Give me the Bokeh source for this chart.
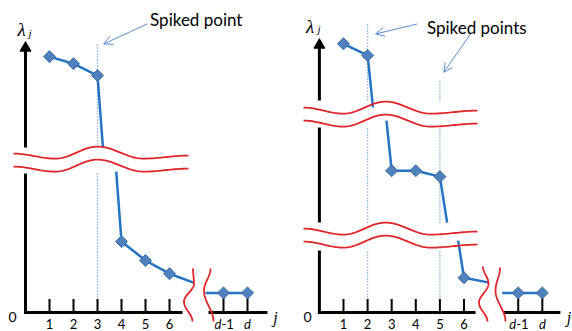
import numpy as np
from bokeh.plotting import figure
from bokeh.layouts import row
from bokeh.models import Range1d, Arrow, OpenHead
from bokeh.core.properties import value
from bokeh.embed import file_html
from bokeh.resources import INLINE

# ---------------- data ----------------
TICK_J = [1, 2, 3, 4, 5, 6, 8.25, 9.25]
TICK_LABELS = ["1", "2", "3", "4", "5", "6", "d-1", "d"]

# left panel: eigenvalues (true units of the broken lambda axis); j=7 is cut by the break
left_j = [1, 2, 3, 4, 5, 6, 7]
left_lam = [15.12, 14.86, 14.42, 2.63, 1.93, 1.44, 1.11]
left_end_j = [7.5, 8.25, 9.25]          # d-2 (hidden marker), d-1, d
left_end_lam = [0.73, 0.73, 0.73]
left_spike_j = [3]
left_spike_top = [9.96]

# right panel
right_j = [1, 2, 3, 4, 5, 6, 7]
right_lam = [16.2, 15.77, 7.19, 7.19, 6.97, 1.29, 1.12]
right_end_j = [7.585, 8.25, 9.25]
right_end_lam = [0.73, 0.73, 0.73]
right_spike_j = [2, 5]
right_spike_top = [10.67, 8.59]

# axis breaks: (display low, display high, true span hidden)
left_line_breaks = [(5.222, 6.111, 6.53)]
right_line_breaks = [(2.667, 3.333, 2.60), (7.111, 7.60, 4.80)]
left_axis_gaps = [(5.152, 6.115)]
right_axis_gaps = [(2.30, 3.337), (6.856, 7.856)]

Y0, Y1 = -0.70, 11.559

LINE_C = "#2474C6"
MARK_FILL = "#4F81BD"
MARK_LINE = "#3A6CA8"
RED = "#E0252A"
GUIDE_C = "#4C88CC"
ARROW_C = "#5B8CD2"
FONT = "Lato"
SERIF = "Liberation Serif"


# ---------------- helpers ----------------
def build_breaks(spec):
    out, shift = [], 0.0
    for dlo, dhi, span in spec:
        tlo = dlo + shift
        thi = tlo + span
        out.append((tlo, thi, dlo, dhi))
        shift = thi - dhi
    return out


def to_disp(t, brks):
    shift = 0.0
    for tlo, thi, dlo, dhi in brks:
        if t >= thi:
            shift = thi - dhi
        elif t > tlo:
            return None
        else:
            break
    return t - shift


def broken_line(xs, ts, brks):
    outx, outy = [], []
    for i in range(len(xs) - 1):
        x0, t0, x1, t1 = xs[i], ts[i], xs[i + 1], ts[i + 1]
        cuts = sorted([c for b in brks for c in b[:2] if min(t0, t1) < c < max(t0, t1)],
                      reverse=t0 > t1)
        seq = [(x0, t0)] + [(x0 + (c - t0) / (t1 - t0) * (x1 - x0), c) for c in cuts] + [(x1, t1)]
        for (xa, ta), (xb, tb) in zip(seq[:-1], seq[1:]):
            if to_disp((ta + tb) / 2, brks) is None:
                if outx and not np.isnan(outx[-1]):
                    outx.append(np.nan)
                    outy.append(np.nan)
                continue
            if not outx or np.isnan(outx[-1]):
                outx.append(xa)
                outy.append(to_disp(ta, brks))
            outx.append(xb)
            outy.append(to_disp(tb, brks))
    return outx, outy


def split_span(a, b, gaps):
    pieces, cur = [], a
    for lo, hi in sorted(gaps):
        if hi <= cur or lo >= b:
            continue
        pieces.append((cur, lo))
        cur = hi
    pieces.append((cur, b))
    return pieces


def ease(lin, eased, n=24):
    a, b = [], []
    for i in range(len(lin) - 1):
        t = np.linspace(0, 1, n, endpoint=(i == len(lin) - 2))
        s = (1 - np.cos(np.pi * t)) / 2
        a.extend(lin[i] + t * (lin[i + 1] - lin[i]))
        b.extend(eased[i] + s * (eased[i + 1] - eased[i]))
    return a, b


def make_fig(x0, x1):
    p = figure(width=286, height=331, x_range=Range1d(x0, x1), y_range=Range1d(Y0, Y1),
               output_backend="svg", toolbar_location=None, min_border=0,
               x_axis_location=None, y_axis_location=None)
    p.grid.visible = False
    p.outline_line_color = None
    return p


def txt(p, x, y, s, size, align="center", font=FONT, style="normal", color="black",
        xoff=0, baseline="alphabetic"):
    p.text(x=[x], y=[y], text=[s], text_font=value(font), text_font_size=size,
           text_align=align, text_baseline=baseline, text_font_style=style,
           text_color=color, x_offset=xoff)


def draw_panel(p, cfg):
    brks = build_breaks(cfg["line_breaks"])
    gaps = cfg["axis_gaps"]

    # spiked guides (dotted)
    for sj, top in zip(cfg["spike_j"], cfg["spike_top"]):
        for a, b in split_span(0, top, gaps):
            p.segment(x0=[sj], y0=[a], x1=[sj], y1=[b], line_color=GUIDE_C,
                      line_width=1.3, line_dash="1 2")

    # axes
    for a, b in split_span(-0.055, cfg["y_top"], gaps):
        p.segment(x0=[0], y0=[a], x1=[0], y1=[b], line_color="black", line_width=3)
    p.scatter(x=[0], y=[cfg["y_top"]], marker="triangle", size=11, fill_color="black",
              line_color="black")
    for a, b in cfg["xaxis"]:
        p.segment(x0=[a], y0=[0], x1=[b], y1=[0], line_color="black", line_width=3)
    tick_tops = [0.5] * 6 + [to_disp(v, brks) for v in cfg["end_lam"][1:]]
    p.segment(x0=TICK_J, y0=[0] * len(TICK_J), x1=TICK_J, y1=tick_tops,
              line_color="black", line_width=2)

    # data line
    lx, ly = broken_line(cfg["j"], cfg["lam"], brks)
    p.line(lx, ly, line_color=LINE_C, line_width=2.5)
    p.line(cfg["end_j"], [to_disp(v, brks) for v in cfg["end_lam"]],
           line_color=LINE_C, line_width=2.5)
    mx = cfg["j"][:6] + cfg["end_j"][1:]
    my = [to_disp(v, brks) for v in cfg["lam"][:6] + cfg["end_lam"][1:]]
    p.scatter(x=mx, y=my, marker="square", angle=np.pi / 4, size=8.5,
              fill_color=MARK_FILL, line_color=MARK_LINE, line_width=1)

    # break symbols
    for kx, ky in cfg["waves"]:
        wx, wy = ease(kx, ky)
        p.line(wx, wy, line_color=RED, line_width=1.8)
    for kx, ky in cfg["vbreaks"]:
        vy, vx = ease(ky, kx)
        p.line(vx, vy, line_color=RED, line_width=1.8)

    # texts
    ty_lab = -0.41
    for tj, lab in zip(TICK_J, TICK_LABELS):
        if lab == "d-1":
            txt(p, tj, ty_lab, "d", "13px", align="right", style="italic", xoff=-2, baseline="middle")
            txt(p, tj, ty_lab, "-1", "13px", align="left", xoff=-2, baseline="middle")
        elif lab == "d":
            txt(p, tj, ty_lab, "d", "13px", style="italic", baseline="middle")
        else:
            txt(p, tj, ty_lab, lab, "13px", baseline="middle")
    txt(p, cfg["zero_x"], -0.18, "0", "14px")
    txt(p, cfg["jlab_x"], -0.18, "j", "16px", font=SERIF, style="italic")
    lx0, ly0, sx0, sy0 = cfg["lam_lab"]
    txt(p, lx0, ly0, "λ", "19px", font=SERIF, style="italic")
    txt(p, sx0, sy0, "j", "11px", align="left", font=SERIF, style="italic")
    tx, ty, s = cfg["title"]
    txt(p, tx, ty, s, "17px")
    for (xs, ys, xe, ye) in cfg["arrows"]:
        p.add_layout(Arrow(x_start=xs, y_start=ys, x_end=xe, y_end=ye,
                           line_color=ARROW_C, line_width=1,
                           end=OpenHead(size=9, line_color=ARROW_C, line_width=1)))


left_cfg = dict(
    j=left_j, lam=left_lam, end_j=left_end_j, end_lam=left_end_lam,
    line_breaks=left_line_breaks, axis_gaps=left_axis_gaps,
    spike_j=left_spike_j, spike_top=left_spike_top,
    y_top=9.80, xaxis=[(-0.06, 6.54), (7.625, 10.08)],
    waves=[([-0.5, 1.25, 3.0, 4.917, 6.792], [5.889, 5.704, 6.148, 5.704, 5.815]),
           ([-0.5, 1.25, 3.0, 4.917, 6.792], [5.407, 5.222, 5.667, 5.222, 5.333])],
    vbreaks=[([6.979, 7.021, 6.604, 6.958], [1.630, 1.074, 0.407, -0.333]),
             ([7.708, 7.438, 7.833], [1.630, 0.815, -0.333])],
    zero_x=-0.542, jlab_x=10.42,
    lam_lab=(-0.167, 10.49, 0.125, 10.37),
    title=(7.115, 10.84, "Spiked point"),
    arrows=[(5.07, 10.69, 3.26, 9.95)],
)

right_cfg = dict(
    j=right_j, lam=right_lam, end_j=right_end_j, end_lam=right_end_lam,
    line_breaks=right_line_breaks, axis_gaps=right_axis_gaps,
    spike_j=right_spike_j, spike_top=right_spike_top,
    y_top=9.91, xaxis=[(-0.06, 6.48), (7.64, 10.0)],
    waves=[([-0.66, 1.0, 2.743, 4.61, 6.56], [7.593, 7.370, 7.815, 7.370, 7.481]),
           ([-0.66, 1.0, 2.743, 4.61, 6.56], [7.111, 6.889, 7.333, 6.889, 7.0]),
           ([-0.66, 1.0, 2.743, 4.61, 6.56], [3.111, 2.889, 3.333, 2.889, 3.0]),
           ([-0.66, 1.0, 2.743, 4.61, 6.56], [2.630, 2.407, 2.852, 2.407, 2.519])],
    vbreaks=[([6.788, 7.017, 6.622, 6.975], [1.704, 1.074, 0.370, -0.333]),
             ([7.494, 7.307, 7.722], [1.667, 0.815, -0.333])],
    zero_x=-0.494, jlab_x=10.36,
    lam_lab=(-0.39, 10.6, -0.079, 10.49),
    title=(6.53, 10.57, "Spiked points"),
    arrows=[(4.06, 10.69, 2.33, 10.32), (6.27, 10.32, 5.16, 8.90)],
)

p1 = make_fig(-1.0417, 10.875)
draw_panel(p1, left_cfg)
p2 = make_fig(-1.365, 10.502)
draw_panel(p2, right_cfg)

layout = row(p1, p2)
open("out.html", "w").write(file_html(layout, INLINE))
